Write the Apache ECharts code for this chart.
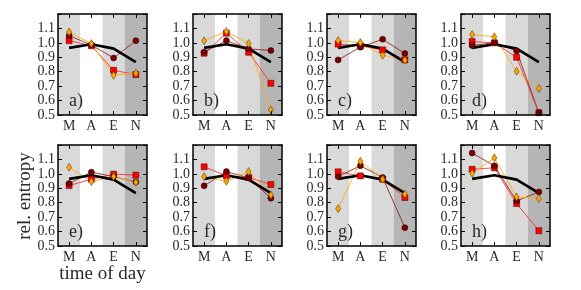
<!DOCTYPE html>
<html>
<head>
<meta charset="utf-8">
<script src="https://cdn.jsdelivr.net/npm/echarts@6/dist/echarts.min.js"></script>
<style>html,body{margin:0;padding:0;background:#fff}#c{width:581px;height:290px}</style>
</head>
<body>
<div id="c"></div>
<script>
var categories = ['M', 'A', 'E', 'N'];
var yTicks = ['0.5', '0.6', '0.7', '0.8', '0.9', '1.0', '1.1'];
var panelLabels = ['a)', 'b)', 'c)', 'd)', 'e)', 'f)', 'g)', 'h)'];
var average = [0.965, 0.99, 0.96, 0.866];
var darkRed = [
  [1.05, 0.985, 0.895, 1.015],
  [0.935, 1.016, 0.958, 0.947],
  [0.882, 0.970, 1.025, 0.926],
  [0.981, 1.002, 0.944, 0.516],
  [0.933, 1.012, 0.981, 0.944],
  [0.917, 1.016, 0.972, 0.831],
  [0.981, 1.056, 0.975, 0.627],
  [1.144, 1.056, 0.812, 0.875]
];
var red = [
  [1.015, 0.98, 0.81, 0.78],
  [0.928, 1.067, 0.935, 0.72],
  [0.991, 0.979, 0.951, 0.882],
  [1.009, 1.0, 0.90, 0.516],
  [0.919, 0.963, 0.998, 0.991],
  [1.049, 0.986, 0.975, 0.926],
  [1.014, 0.986, 0.963, 0.836],
  [1.032, 1.042, 0.794, 0.606]
];
var orange = [
  [1.075, 0.995, 0.775, 0.79],
  [1.014, 1.079, 0.995, 0.535],
  [1.016, 1.002, 0.914, 0.880],
  [1.058, 1.042, 0.803, 0.683],
  [1.046, 0.947, 0.981, 0.942],
  [0.981, 0.949, 1.016, 0.854],
  [0.759, 1.088, 0.963, 0.859],
  [1.005, 1.111, 0.84, 0.829]
];
var bandShade = [1, 1, 1, 1];

var chart = echarts.init(document.getElementById('c'), null, {renderer: 'canvas'});
var FONT = 'Liberation Serif';
var colLeft = [58, 193, 327, 461];
var rowTop = [14, 145];
var W = 89, H = 101;
var grids = [], xAxes = [], yAxes = [], series = [], graphics = [];
var bandColors = ['#d9d9d9', '#ffffff', '#d9d9d9', '#b5b5b5'];

for (var p = 0; p < 8; p++) {
  var r = Math.floor(p / 4), c = p % 4;
  var L = colLeft[c], T = rowTop[r];
  grids.push({left: L, top: T, width: W, height: H, containLabel: false});
  var xb = xAxes.length;
  xAxes.push({gridIndex: p, type: 'category', data: categories, position: 'bottom', boundaryGap: true, z: 10,
    axisLine: {show: true, lineStyle: {color: '#000', width: 1.5}},
    axisTick: {show: true, inside: true, alignWithLabel: true, length: 4, lineStyle: {color: '#000', width: 1}},
    axisLabel: {show: true, color: '#2a2a2a', fontFamily: FONT, fontSize: 14, margin: 4},
    splitLine: {show: false}});
  xAxes.push({gridIndex: p, type: 'category', data: categories, position: 'top', boundaryGap: true, z: 10,
    axisLine: {show: true, lineStyle: {color: '#000', width: 1.5}},
    axisTick: {show: true, inside: true, alignWithLabel: true, length: 4, lineStyle: {color: '#000', width: 1}},
    axisLabel: {show: false}, splitLine: {show: false}});
  var yb = yAxes.length;
  yAxes.push({gridIndex: p, type: 'value', min: 0.5, max: 1.2, interval: 0.1, position: 'left', z: 10,
    axisLine: {show: true, lineStyle: {color: '#000', width: 1.5}},
    axisTick: {show: true, inside: true, length: 4, lineStyle: {color: '#000', width: 1}},
    axisLabel: {show: true, color: '#2a2a2a', fontFamily: FONT, fontSize: 14, margin: 3,
      formatter: function (v) { var i = Math.round((v - 0.5) * 10); return yTicks[i] || ''; }},
    splitLine: {show: false}});
  yAxes.push({gridIndex: p, type: 'value', min: 0.5, max: 1.2, interval: 0.1, position: 'right', z: 10,
    axisLine: {show: true, lineStyle: {color: '#000', width: 1.5}},
    axisTick: {show: true, inside: true, length: 4, lineStyle: {color: '#000', width: 1}},
    axisLabel: {show: false}, splitLine: {show: false}});
  yAxes.push({gridIndex: p, type: 'value', min: 0, max: 1, show: false});

  series.push({type: 'bar', xAxisIndex: xb, yAxisIndex: yb + 2, barWidth: '100%', silent: true, z: 0,
    data: bandShade.map(function (v, i) { return {value: v, itemStyle: {color: bandColors[i]}}; })});
  var lineDefs = [
    {d: darkRed[p], c: 'rgba(140,30,30,0.85)'},
    {d: red[p], c: 'rgba(255,40,40,0.85)'},
    {d: orange[p], c: 'rgba(255,170,20,0.9)'}
  ];
  lineDefs.forEach(function (ld) {
    series.push({type: 'line', xAxisIndex: xb, yAxisIndex: yb, data: ld.d, showSymbol: false, symbol: 'none',
      lineStyle: {color: ld.c, width: 1}, silent: true, z: 3, animation: false});
  });
  series.push({type: 'line', xAxisIndex: xb, yAxisIndex: yb, data: average, symbol: 'none',
    lineStyle: {color: '#000', width: 2.6}, silent: true, z: 4, animation: false});
  series.push({type: 'scatter', xAxisIndex: xb, yAxisIndex: yb, data: red[p], symbol: 'rect', symbolSize: 6,
    itemStyle: {color: '#ff0000', borderColor: '#400', borderWidth: 0.5, opacity: 1}, z: 5, silent: true, animation: false});
  series.push({type: 'scatter', xAxisIndex: xb, yAxisIndex: yb, data: darkRed[p], symbol: 'circle', symbolSize: 6,
    itemStyle: {color: '#7a0000', borderColor: '#200', borderWidth: 0.5, opacity: 1}, z: 6, silent: true, animation: false});
  series.push({type: 'scatter', xAxisIndex: xb, yAxisIndex: yb, data: orange[p], symbol: 'diamond', symbolSize: [5, 8],
    itemStyle: {color: '#ffa500', borderColor: '#4a3000', borderWidth: 0.5, opacity: 1}, z: 7, silent: true, animation: false});

  graphics.push({type: 'text', left: L + 11, top: T + 78, z: 20,
    style: {text: panelLabels[p], font: '18px "' + FONT + '"', fill: '#2a2a2a'}});
}
graphics.push({type: 'text', x: 25, y: 196, rotation: Math.PI / 2, z: 20,
  style: {text: 'rel. entropy', font: '19px "' + FONT + '"', fill: '#2a2a2a', align: 'center', verticalAlign: 'middle'}});
graphics.push({type: 'text', x: 102.5, y: 274, z: 20,
  style: {text: 'time of day', font: '19px "' + FONT + '"', fill: '#2a2a2a', align: 'center', verticalAlign: 'middle'}});

chart.setOption({
  animation: false,
  backgroundColor: '#fff',
  grid: grids, xAxis: xAxes, yAxis: yAxes, series: series, graphic: graphics
});
</script>
</body>
</html>
